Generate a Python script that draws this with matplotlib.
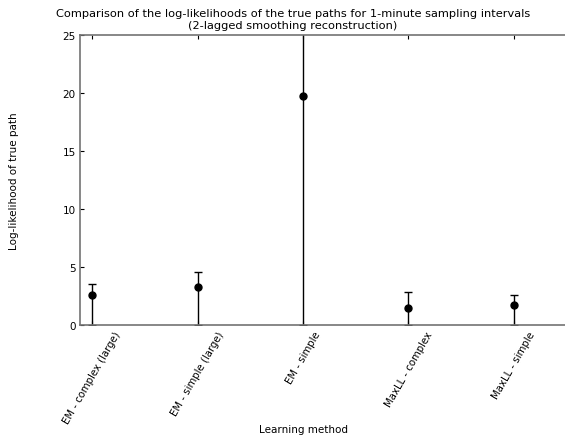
import numpy as np
import matplotlib
matplotlib.use("Agg")
import matplotlib.pyplot as plt

# learning methods and the log-likelihood of the true path for each
methods = ["EM - complex (large)", "EM - simple (large)", "EM - simple",
           "MaxLL - complex", "MaxLL - simple"]
loglik = [2.57, 3.31, 19.75, 1.50, 1.73]
err_upper = [0.98, 1.28, 6.0, 1.35, 0.88]

x = np.arange(len(methods))
lower = loglik  # bars run down to zero

fig = plt.figure(figsize=(5.65, 4.39), dpi=100)
ax = fig.add_axes([0.1416, 0.2574, 0.88, 0.6606])

ax.errorbar(x, loglik, yerr=[lower, err_upper], fmt="o", color="black",
            ecolor="black", markersize=5, elinewidth=1, capsize=3,
            capthick=1, clip_on=True)

ax.set_xlim(-0.114, 4.6)
ax.set_ylim(0, 25)
ax.set_yticks([0, 5, 10, 15, 20, 25])
ax.set_xticks(x)
ax.set_xticklabels(methods, rotation=60, fontsize=7.3)
ax.tick_params(axis="y", labelsize=7.5)
ax.tick_params(direction="in", top=True, right=True, length=3,
               color="black", pad=3)
for s in ax.spines.values():
    s.set_color("0.45")
    s.set_linewidth(1.2)

ax.set_xlabel("Learning method", fontsize=7.5)
ax.xaxis.set_label_coords(0.45, -0.34)
ax.set_ylabel("Log-likelihood of true path", fontsize=7.5)
ax.yaxis.set_label_coords(-0.123, 0.5)
fig.text(0.518, 0.98,
         "Comparison of the log-likelihoods of the true paths for 1-minute sampling intervals\n"
         "(2-lagged smoothing reconstruction)",
         fontsize=8.2, linespacing=1.3, ha="center", va="top")

fig.savefig("out.png", dpi=100)
